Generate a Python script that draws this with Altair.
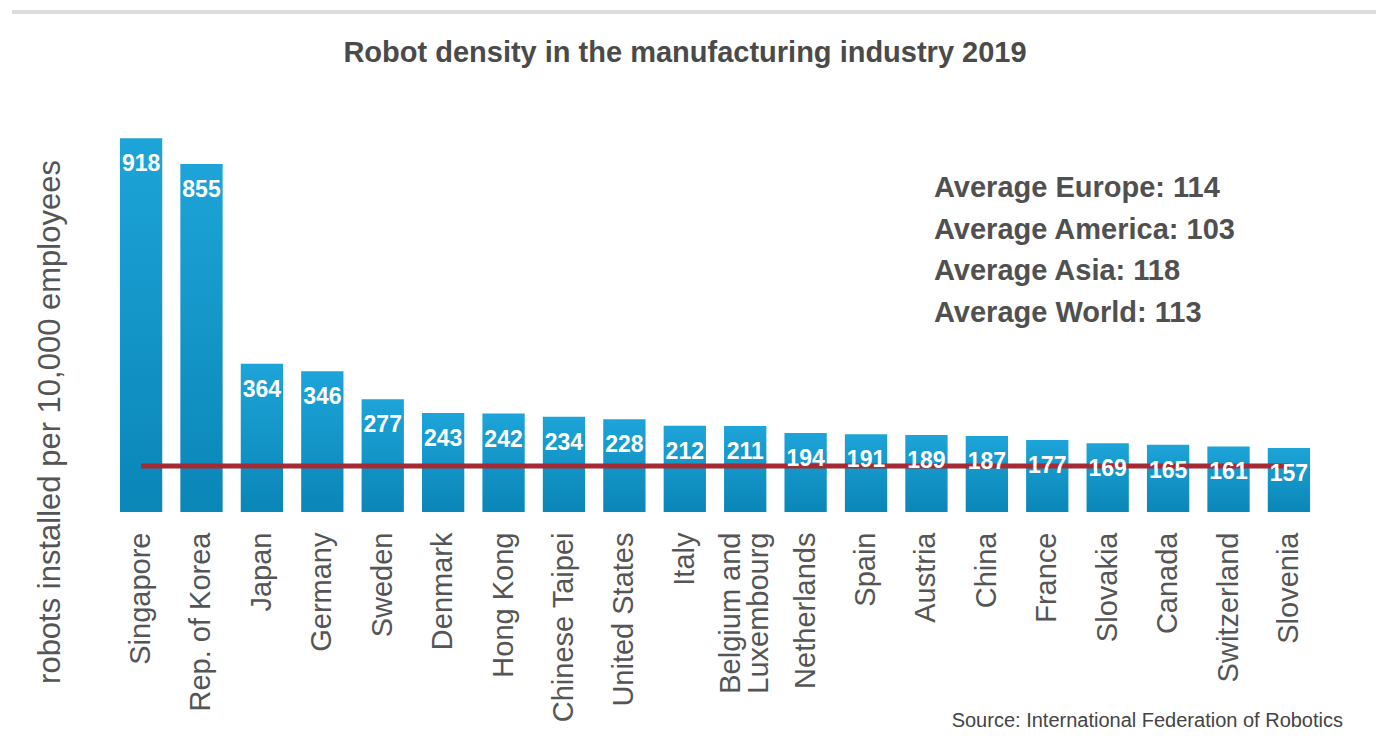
import altair as alt
import pandas as pd

countries = ["Singapore", "Rep. of Korea", "Japan", "Germany", "Sweden", "Denmark",
             "Hong Kong", "Chinese Taipei", "United States", "Italy",
             "Belgium and Luxembourg", "Netherlands", "Spain", "Austria", "China",
             "France", "Slovakia", "Canada", "Switzerland", "Slovenia"]
density = [918, 855, 364, 346, 277, 243, 242, 234, 228, 212, 211, 194, 191, 189,
           187, 177, 169, 165, 161, 157]

avg_regions = ["Europe", "America", "Asia", "World"]
avg_values = [114, 103, 118, 113]

title_text = "Robot density in the manufacturing industry 2019"
y_title = "robots installed per 10,000 employees"
source_text = "Source: International Federation of Robotics"

FONT = "Liberation Sans"
GREY = "#555555"

df = pd.DataFrame({"country": countries, "value": density})
world_avg = avg_values[avg_regions.index("World")]

x_enc = alt.X("country:N", sort=countries, title=None,
              scale=alt.Scale(paddingInner=0.3, paddingOuter=0.33),
              axis=alt.Axis(labelAngle=-90, labelFontSize=29, labelColor=GREY,
                            labelFont=FONT, ticks=False, domain=False,
                            labelPadding=20, labelLineHeight=28, labelLimit=0,
                            labelOffset={"condition": {"test": "datum.label == 'Belgium and Luxembourg'",
                                                       "value": -14}, "value": 0},
                            labelExpr="datum.label == 'Belgium and Luxembourg' ? ['Belgium and', 'Luxembourg'] : datum.label"))
y_enc = alt.Y("value:Q", scale=alt.Scale(domain=[0, 1000]), axis=None)

base = alt.Chart(df)

bars = base.mark_bar(
    color=alt.Gradient(gradient="linear", x1=0, x2=0, y1=0, y2=1,
                       stops=[alt.GradientStop(color="#1DA4D8", offset=0),
                              alt.GradientStop(color="#0A86B7", offset=1)])
).encode(x=x_enc, y=y_enc)

line = base.mark_line(color="#A52A33", strokeWidth=5).encode(
    x=alt.X("country:N", sort=countries), y=alt.datum(world_avg))

labels = base.mark_text(color="white", fontWeight="bold", fontSize=23, font=FONT,
                        baseline="middle", dy=26).encode(
    x=alt.X("country:N", sort=countries), y="value:Q", text="value:Q")

avg_lines = [f"Average {r}: {v}" for r, v in zip(avg_regions, avg_values)]
avg_df = pd.DataFrame({"t": ["\n".join(avg_lines)]})
avg_text = alt.Chart(avg_df).mark_text(
    align="left", baseline="alphabetic", fontSize=29, fontWeight="bold", font=FONT,
    color="#505050", lineBreak="\n", lineHeight=41.7
).encode(text="t:N", x=alt.value(834), y=alt.value(92))

title_df = pd.DataFrame({"t": [title_text]})
title = alt.Chart(title_df).mark_text(
    align="center", baseline="middle", fontSize=29, fontWeight="bold", font=FONT,
    color="#4a4a4a").encode(text="t:N", x=alt.value(585), y=alt.value(-52))

ytitle_df = pd.DataFrame({"t": [y_title]})
ytitle = alt.Chart(ytitle_df).mark_text(
    align="center", baseline="middle", fontSize=31, font=FONT, angle=270,
    color=GREY).encode(text="t:N", x=alt.value(-49), y=alt.value(317))

src_df = pd.DataFrame({"t": [source_text]})
src = alt.Chart(src_df).mark_text(
    align="right", baseline="middle", fontSize=20, font=FONT,
    color="#444444").encode(text="t:N", x=alt.value(1243), y=alt.value(616))

top_strip = alt.Chart(src_df).mark_rule(color="#dcdcdc", strokeWidth=4).encode(
    x=alt.value(-88), x2=alt.value(1280), y=alt.value(-93))

chart = alt.layer(top_strip, bars, line, labels, avg_text, title, ytitle, src).properties(
    width=1230, height=407,
    autosize=alt.AutoSizeParams(type="none"),
    padding={"left": 92, "top": 97, "right": 46, "bottom": 220},
    background="white"
).configure_view(stroke=None)

chart.save("out.html", embed_options={"renderer": "svg", "actions": False})
